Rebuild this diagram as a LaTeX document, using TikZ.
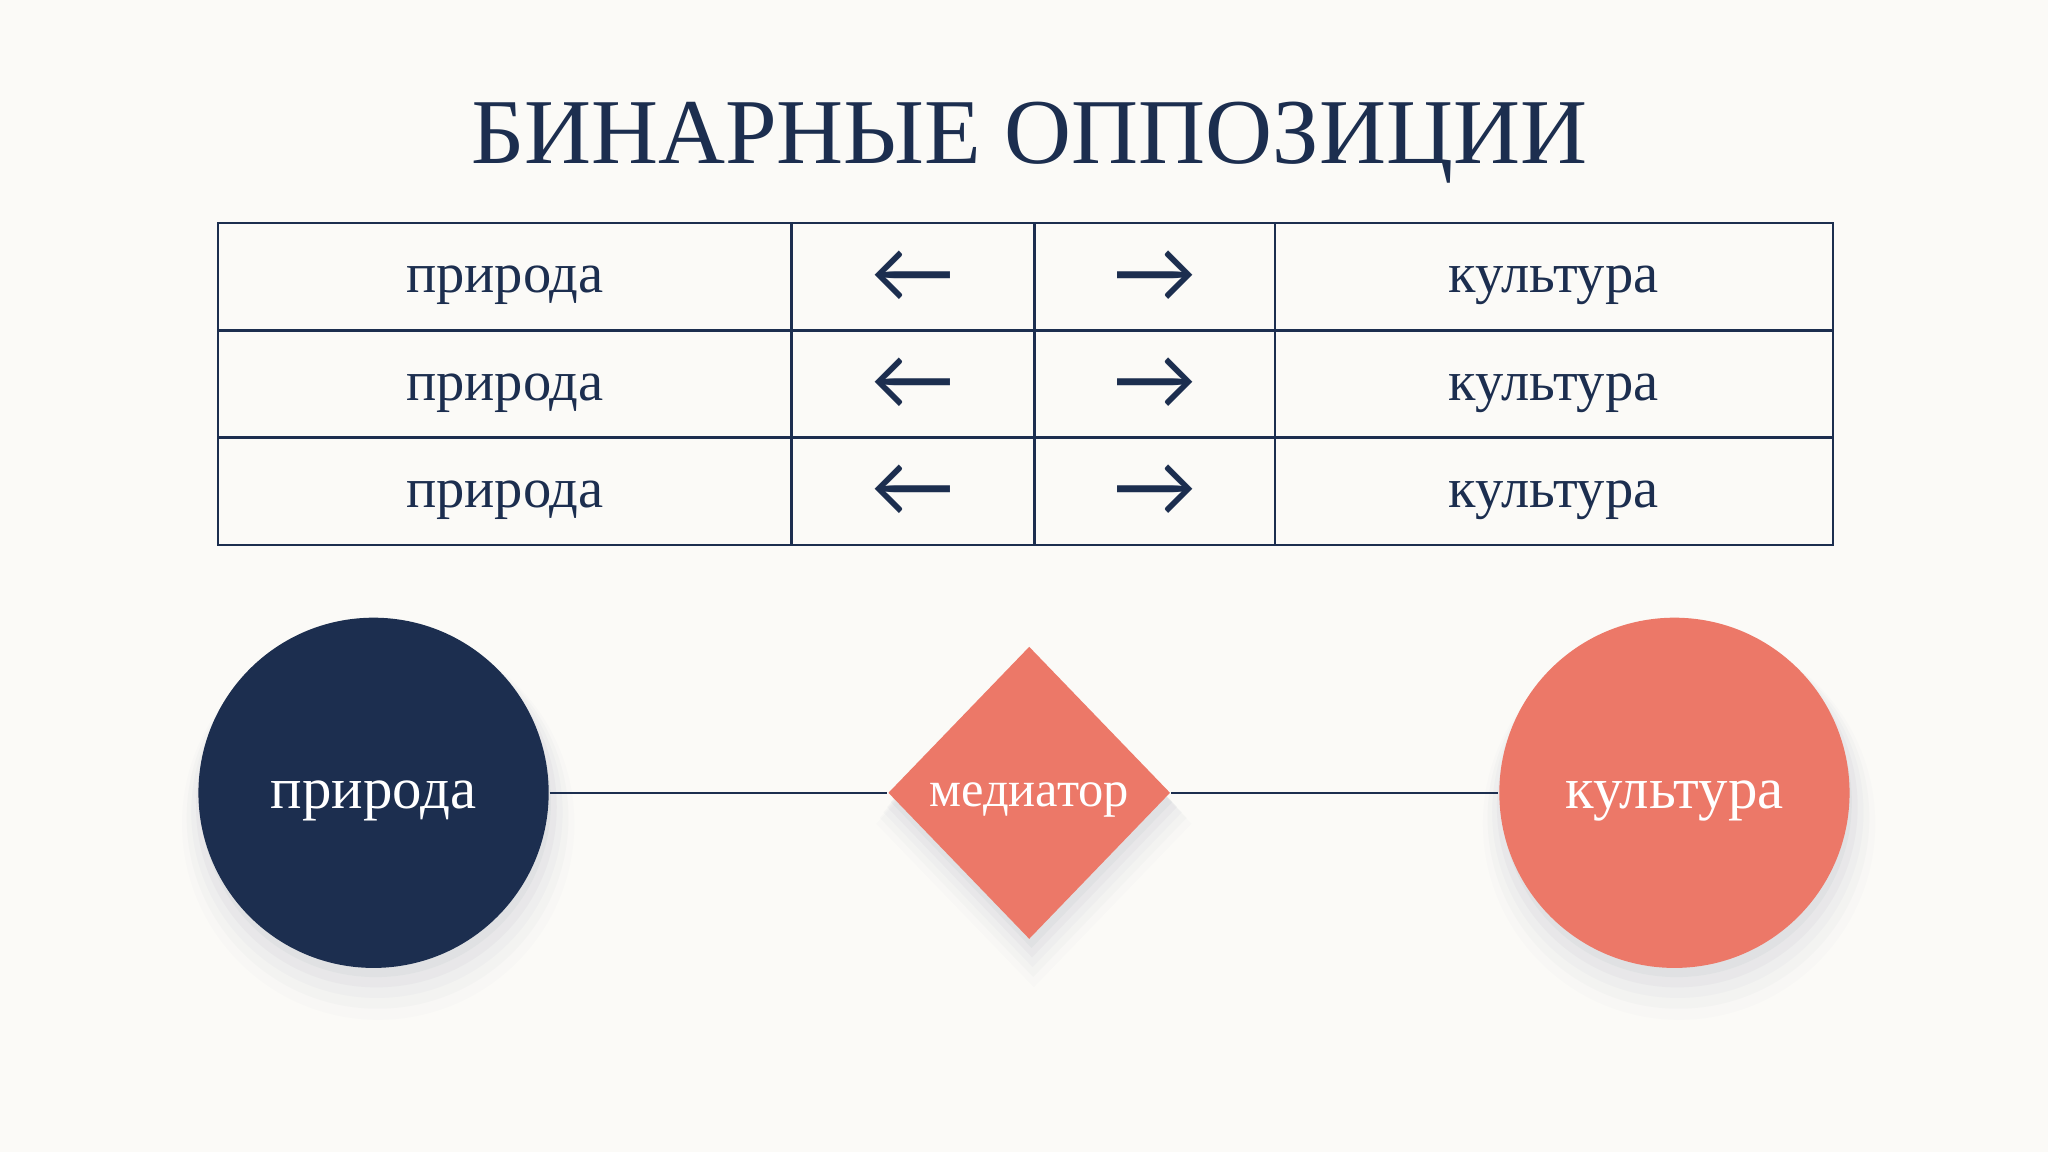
\documentclass[tikz,border=0pt]{standalone}
\usepackage{fontspec}
\setmainfont{Liberation Serif}
\newfontfamily\arrowfont{Lato}
\usetikzlibrary{shapes.geometric,shadows}

\definecolor{navy}{HTML}{1C2E4F}
\definecolor{coral}{HTML}{EC7868}
\definecolor{paper}{HTML}{FBFAF7}

\tikzset{
  cell/.style={draw=navy, line width=0.45pt, rectangle, inner sep=0pt, minimum height=0.82cm,
    text=navy, text height=9pt, text depth=2pt, font=\fontsize{12.3}{15}\selectfont},
  arrowcell/.style={draw=navy, line width=0.45pt, rectangle, inner sep=0pt, minimum height=0.82cm,
    text=navy, font=\arrowfont\fontsize{18.5}{20}\selectfont},
  softshadow/.style={
    drop shadow={shadow xshift=0.5pt, shadow yshift=-2pt, shadow scale=1.00, opacity=0.06, fill=navy!60},
    drop shadow={shadow xshift=0.6pt, shadow yshift=-3pt, shadow scale=1.03, opacity=0.05, fill=navy!60},
    drop shadow={shadow xshift=0.7pt, shadow yshift=-4pt, shadow scale=1.06, opacity=0.04, fill=navy!60},
    drop shadow={shadow xshift=0.8pt, shadow yshift=-5pt, shadow scale=1.09, opacity=0.03, fill=navy!60},
    drop shadow={shadow xshift=0.9pt, shadow yshift=-6pt, shadow scale=1.12, opacity=0.02, fill=navy!60}},
  bigdot/.style={circle, minimum size=2.68cm, inner sep=0pt, text=white,
    text height=9pt, text depth=2pt, font=\fontsize{12.8}{15}\selectfont, softshadow},
  link/.style={draw=navy, line width=0.5pt}
}

\begin{document}
\begin{tikzpicture}[x=0.01cm, y=-0.01cm]
  % Background
  \fill[paper] (0,0) rectangle (1568,882);

  % Title
  \node[anchor=base, text=navy, font=\fontsize{20.2}{24}\selectfont] (title) at (788,125) {БИНАРНЫЕ ОППОЗИЦИИ};

  % Row 1
  \node[cell, minimum width=4.39cm] (nat1) at (386.5,212) {природа};
  \node[arrowcell, minimum width=1.86cm] (left1) at (699,212) {←};
  \node[arrowcell, minimum width=1.84cm] (right1) at (884,212) {→};
  \node[cell, minimum width=4.27cm] (cult1) at (1189.5,212) {культура};

  % Row 2
  \node[cell, minimum width=4.39cm] (nat2) at (386.5,294) {природа};
  \node[arrowcell, minimum width=1.86cm] (left2) at (699,294) {←};
  \node[arrowcell, minimum width=1.84cm] (right2) at (884,294) {→};
  \node[cell, minimum width=4.27cm] (cult2) at (1189.5,294) {культура};

  % Row 3
  \node[cell, minimum width=4.39cm] (nat3) at (386.5,376) {природа};
  \node[arrowcell, minimum width=1.86cm] (left3) at (699,376) {←};
  \node[arrowcell, minimum width=1.84cm] (right3) at (884,376) {→};
  \node[cell, minimum width=4.27cm] (cult3) at (1189.5,376) {культура};

  % Nature
  \node[bigdot, fill=navy] (nature) at (286,607) {природа};

  % Mediator
  \node[diamond, aspect=1, minimum width=2.16cm, minimum height=2.24cm, inner sep=0pt, fill=coral,
    text=white, text height=7.5pt, text depth=1.5pt, font=\fontsize{11}{13}\selectfont, softshadow]
    (mediator) at (788,607) {медиатор};

  % Culture
  \node[bigdot, fill=coral] (culture) at (1282,607) {культура};

  % Links
  \draw[link] (nature) -- (mediator);
  \draw[link] (mediator) -- (culture);
\end{tikzpicture}
\end{document}
